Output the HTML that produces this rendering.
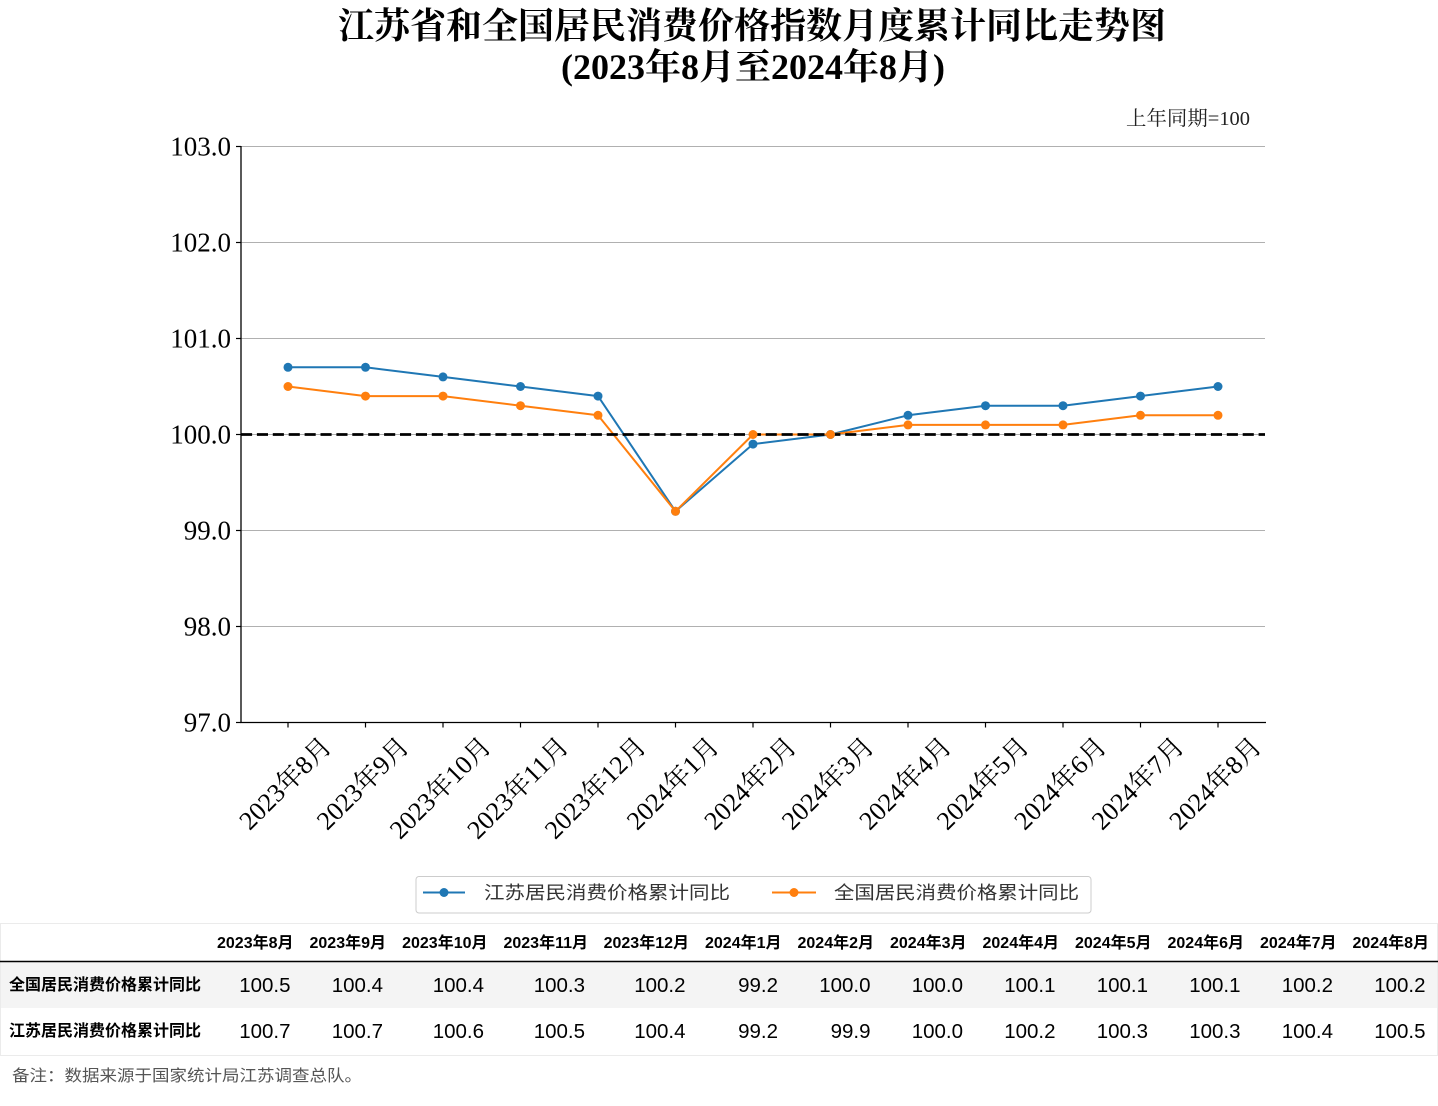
<!DOCTYPE html>
<html>
<head>
<meta charset="utf-8">
<style>
  html,body{margin:0;padding:0;background:#fff;}
  svg{display:block;}
  .serif{font-family:"Liberation Serif","Noto Serif CJK SC",serif;}
  .sans{font-family:"Liberation Sans","Noto Sans CJK SC",sans-serif;}
</style>
</head>
<body>
<svg width="1438" height="1106" viewBox="0 0 1438 1106" xmlns="http://www.w3.org/2000/svg">
  <rect x="0" y="0" width="1438" height="1106" fill="#fff"/>

  <!-- Title -->
  <text class="serif" x="752" y="26" font-size="36" font-weight="bold" text-anchor="middle" dominant-baseline="central" textLength="828" lengthAdjust="spacingAndGlyphs">江苏省和全国居民消费价格指数月度累计同比走势图</text>
  <text class="serif" x="753" y="67" font-size="36" font-weight="bold" text-anchor="middle" dominant-baseline="central" textLength="384" lengthAdjust="spacingAndGlyphs">(2023年8月至2024年8月)</text>

  <!-- unit -->
  <text class="serif" x="1126" y="119" font-size="20" fill="#222" dominant-baseline="central" textLength="124" lengthAdjust="spacingAndGlyphs">上年同期=100</text>

  <!-- gridlines -->
  <g stroke="#b0b0b0" stroke-width="1">
    <line x1="241" y1="146.5" x2="1265" y2="146.5"/>
    <line x1="241" y1="242.5" x2="1265" y2="242.5"/>
    <line x1="241" y1="338.5" x2="1265" y2="338.5"/>
    <line x1="241" y1="434.5" x2="1265" y2="434.5"/>
    <line x1="241" y1="530.5" x2="1265" y2="530.5"/>
    <line x1="241" y1="626.5" x2="1265" y2="626.5"/>
  </g>

  <!-- axes spines -->
  <g stroke="#000" stroke-width="1.3">
    <line x1="241" y1="146" x2="241" y2="723"/>
    <line x1="240.4" y1="722.5" x2="1266" y2="722.5"/>
  </g>

  <!-- y ticks -->
  <g stroke="#000" stroke-width="1.2">
    <line x1="236" y1="146.5" x2="241" y2="146.5"/>
    <line x1="236" y1="242.5" x2="241" y2="242.5"/>
    <line x1="236" y1="338.5" x2="241" y2="338.5"/>
    <line x1="236" y1="434.5" x2="241" y2="434.5"/>
    <line x1="236" y1="530.5" x2="241" y2="530.5"/>
    <line x1="236" y1="626.5" x2="241" y2="626.5"/>
    <line x1="236" y1="722.5" x2="241" y2="722.5"/>
  </g>
  <g class="serif" font-size="27" text-anchor="end" dominant-baseline="central" fill="#000">
    <text x="231" y="146.5">103.0</text>
    <text x="231" y="242.5">102.0</text>
    <text x="231" y="338.5">101.0</text>
    <text x="231" y="434.5">100.0</text>
    <text x="231" y="530.5">99.0</text>
    <text x="231" y="626.5">98.0</text>
    <text x="231" y="722.5">97.0</text>
  </g>

  <!-- x ticks -->
  <g stroke="#000" stroke-width="1.2">
    <line x1="288" y1="722.5" x2="288" y2="727.5"/>
    <line x1="365.5" y1="722.5" x2="365.5" y2="727.5"/>
    <line x1="443" y1="722.5" x2="443" y2="727.5"/>
    <line x1="520.5" y1="722.5" x2="520.5" y2="727.5"/>
    <line x1="598" y1="722.5" x2="598" y2="727.5"/>
    <line x1="675.5" y1="722.5" x2="675.5" y2="727.5"/>
    <line x1="753" y1="722.5" x2="753" y2="727.5"/>
    <line x1="830.5" y1="722.5" x2="830.5" y2="727.5"/>
    <line x1="908" y1="722.5" x2="908" y2="727.5"/>
    <line x1="985.5" y1="722.5" x2="985.5" y2="727.5"/>
    <line x1="1063" y1="722.5" x2="1063" y2="727.5"/>
    <line x1="1140.5" y1="722.5" x2="1140.5" y2="727.5"/>
    <line x1="1218" y1="722.5" x2="1218" y2="727.5"/>
  </g>
  <g class="serif" font-size="26" text-anchor="middle" dominant-baseline="central" fill="#000">
    <text transform="translate(285.5,783.5) rotate(-45)" textLength="118" lengthAdjust="spacingAndGlyphs">2023年8月</text>
    <text transform="translate(363,783.5) rotate(-45)" textLength="118" lengthAdjust="spacingAndGlyphs">2023年9月</text>
    <text transform="translate(440.5,788) rotate(-45)" textLength="131" lengthAdjust="spacingAndGlyphs">2023年10月</text>
    <text transform="translate(518,788) rotate(-45)" textLength="131" lengthAdjust="spacingAndGlyphs">2023年11月</text>
    <text transform="translate(595.5,788) rotate(-45)" textLength="131" lengthAdjust="spacingAndGlyphs">2023年12月</text>
    <text transform="translate(673,783.5) rotate(-45)" textLength="118" lengthAdjust="spacingAndGlyphs">2024年1月</text>
    <text transform="translate(750.5,783.5) rotate(-45)" textLength="118" lengthAdjust="spacingAndGlyphs">2024年2月</text>
    <text transform="translate(828,783.5) rotate(-45)" textLength="118" lengthAdjust="spacingAndGlyphs">2024年3月</text>
    <text transform="translate(905.5,783.5) rotate(-45)" textLength="118" lengthAdjust="spacingAndGlyphs">2024年4月</text>
    <text transform="translate(983,783.5) rotate(-45)" textLength="118" lengthAdjust="spacingAndGlyphs">2024年5月</text>
    <text transform="translate(1060.5,783.5) rotate(-45)" textLength="118" lengthAdjust="spacingAndGlyphs">2024年6月</text>
    <text transform="translate(1138,783.5) rotate(-45)" textLength="118" lengthAdjust="spacingAndGlyphs">2024年7月</text>
    <text transform="translate(1215.5,783.5) rotate(-45)" textLength="118" lengthAdjust="spacingAndGlyphs">2024年8月</text>
  </g>

  <!-- series lines -->
  <polyline fill="none" stroke="#1f77b4" stroke-width="2" stroke-linejoin="round"
    points="288,367.3 365.5,367.3 443,376.9 520.5,386.5 598,396.1 675.5,511.3 753,444.1 830.5,434.5 908,415.3 985.5,405.7 1063,405.7 1140.5,396.1 1218,386.5"/>
  <polyline fill="none" stroke="#ff7f0e" stroke-width="2" stroke-linejoin="round"
    points="288,386.5 365.5,396.1 443,396.1 520.5,405.7 598,415.3 675.5,511.3 753,434.5 830.5,434.5 908,424.9 985.5,424.9 1063,424.9 1140.5,415.3 1218,415.3"/>

  <!-- dashed reference line -->
  <line x1="241" y1="434.5" x2="1265" y2="434.5" stroke="#000" stroke-width="2.8" stroke-dasharray="11.1 4.8"/>

  <!-- markers -->
  <g fill="#1f77b4">
    <circle cx="288" cy="367.3" r="4.5"/>
    <circle cx="365.5" cy="367.3" r="4.5"/>
    <circle cx="443" cy="376.9" r="4.5"/>
    <circle cx="520.5" cy="386.5" r="4.5"/>
    <circle cx="598" cy="396.1" r="4.5"/>
    <circle cx="675.5" cy="511.3" r="4.5"/>
    <circle cx="753" cy="444.1" r="4.5"/>
    <circle cx="830.5" cy="434.5" r="4.5"/>
    <circle cx="908" cy="415.3" r="4.5"/>
    <circle cx="985.5" cy="405.7" r="4.5"/>
    <circle cx="1063" cy="405.7" r="4.5"/>
    <circle cx="1140.5" cy="396.1" r="4.5"/>
    <circle cx="1218" cy="386.5" r="4.5"/>
  </g>
  <g fill="#ff7f0e">
    <circle cx="288" cy="386.5" r="4.5"/>
    <circle cx="365.5" cy="396.1" r="4.5"/>
    <circle cx="443" cy="396.1" r="4.5"/>
    <circle cx="520.5" cy="405.7" r="4.5"/>
    <circle cx="598" cy="415.3" r="4.5"/>
    <circle cx="675.5" cy="511.3" r="4.5"/>
    <circle cx="753" cy="434.5" r="4.5"/>
    <circle cx="830.5" cy="434.5" r="4.5"/>
    <circle cx="908" cy="424.9" r="4.5"/>
    <circle cx="985.5" cy="424.9" r="4.5"/>
    <circle cx="1063" cy="424.9" r="4.5"/>
    <circle cx="1140.5" cy="415.3" r="4.5"/>
    <circle cx="1218" cy="415.3" r="4.5"/>
  </g>

  <!-- legend -->
  <rect x="416" y="876.5" width="675" height="36.5" rx="3" ry="3" fill="#fff" stroke="#cccccc" stroke-width="1"/>
  <line x1="423" y1="892.5" x2="465" y2="892.5" stroke="#1f77b4" stroke-width="2"/>
  <circle cx="444" cy="892.5" r="4.5" fill="#1f77b4"/>
  <text class="sans" x="484" y="893" font-size="18" fill="#333" dominant-baseline="central" textLength="246" lengthAdjust="spacingAndGlyphs">江苏居民消费价格累计同比</text>
  <line x1="772" y1="892.5" x2="816" y2="892.5" stroke="#ff7f0e" stroke-width="2"/>
  <circle cx="794" cy="892.5" r="4.5" fill="#ff7f0e"/>
  <text class="sans" x="834" y="893" font-size="18" fill="#333" dominant-baseline="central" textLength="245" lengthAdjust="spacingAndGlyphs">全国居民消费价格累计同比</text>

  <!-- table -->
  <rect x="0" y="962" width="1438" height="46" fill="#f4f4f4"/>
  <g stroke="#ebebeb" stroke-width="1">
    <line x1="0" y1="923.5" x2="1438" y2="923.5"/>
    <line x1="0" y1="1055.5" x2="1438" y2="1055.5"/>
    <line x1="0.5" y1="923.5" x2="0.5" y2="1055.5"/>
    <line x1="1437.5" y1="923.5" x2="1437.5" y2="1055.5"/>
  </g>
  <line x1="0" y1="961.5" x2="1438" y2="961.5" stroke="#000" stroke-width="1.5"/>

  <g class="sans" font-size="16" font-weight="bold" text-anchor="end" dominant-baseline="central" fill="#000">
    <text x="293.5" y="943.3">2023年8月</text>
    <text x="386" y="943.3">2023年9月</text>
    <text x="487.5" y="943.3">2023年10月</text>
    <text x="588" y="943.3">2023年11月</text>
    <text x="689" y="943.3">2023年12月</text>
    <text x="781.5" y="943.3">2024年1月</text>
    <text x="874" y="943.3">2024年2月</text>
    <text x="966.5" y="943.3">2024年3月</text>
    <text x="1059" y="943.3">2024年4月</text>
    <text x="1151.5" y="943.3">2024年5月</text>
    <text x="1244" y="943.3">2024年6月</text>
    <text x="1336.5" y="943.3">2024年7月</text>
    <text x="1429" y="943.3">2024年8月</text>
  </g>

  <g class="sans" font-size="16" font-weight="bold" dominant-baseline="central" fill="#000">
    <text x="9" y="985.5" textLength="192" lengthAdjust="spacingAndGlyphs">全国居民消费价格累计同比</text>
    <text x="9" y="1031.5" textLength="192" lengthAdjust="spacingAndGlyphs">江苏居民消费价格累计同比</text>
  </g>

  <g class="sans" font-size="20.5" text-anchor="end" dominant-baseline="central" fill="#000">
    <text x="290.5" y="985.5">100.5</text>
    <text x="383" y="985.5">100.4</text>
    <text x="484" y="985.5">100.4</text>
    <text x="585" y="985.5">100.3</text>
    <text x="685.5" y="985.5">100.2</text>
    <text x="778" y="985.5">99.2</text>
    <text x="870.5" y="985.5">100.0</text>
    <text x="963" y="985.5">100.0</text>
    <text x="1055.5" y="985.5">100.1</text>
    <text x="1148" y="985.5">100.1</text>
    <text x="1240.5" y="985.5">100.1</text>
    <text x="1333" y="985.5">100.2</text>
    <text x="1425.5" y="985.5">100.2</text>

    <text x="290.5" y="1031.5">100.7</text>
    <text x="383" y="1031.5">100.7</text>
    <text x="484" y="1031.5">100.6</text>
    <text x="585" y="1031.5">100.5</text>
    <text x="685.5" y="1031.5">100.4</text>
    <text x="778" y="1031.5">99.2</text>
    <text x="870.5" y="1031.5">99.9</text>
    <text x="963" y="1031.5">100.0</text>
    <text x="1055.5" y="1031.5">100.2</text>
    <text x="1148" y="1031.5">100.3</text>
    <text x="1240.5" y="1031.5">100.3</text>
    <text x="1333" y="1031.5">100.4</text>
    <text x="1425.5" y="1031.5">100.5</text>
  </g>

  <!-- footnote -->
  <text class="sans" x="12" y="1076.5" font-size="16" fill="#555" dominant-baseline="central" textLength="350" lengthAdjust="spacingAndGlyphs">备注：数据来源于国家统计局江苏调查总队。</text>
</svg>
</body>
</html>
